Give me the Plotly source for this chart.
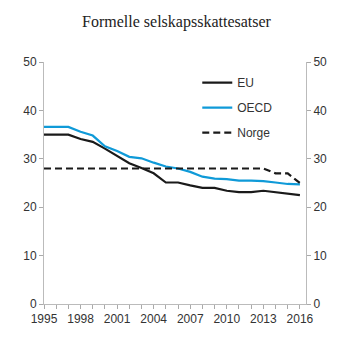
import plotly.graph_objects as go

years = list(range(1995, 2017))
eu = [35.0, 35.0, 35.0, 34.1, 33.5, 32.1, 30.6, 29.1, 28.1, 27.0, 25.1,
      25.1, 24.5, 24.0, 24.0, 23.4, 23.1, 23.1, 23.4, 23.1, 22.8, 22.5]
oecd = [36.6, 36.6, 36.6, 35.6, 34.8, 32.6, 31.6, 30.4, 30.1, 29.2, 28.4,
        28.0, 27.3, 26.3, 25.9, 25.8, 25.5, 25.5, 25.4, 25.1, 24.8, 24.7]
norge = [28.0] * 19 + [27.0, 27.0, 25.0]

title = "Formelle selskapsskattesatser"
yticks = [0, 10, 20, 30, 40, 50]

fig = go.Figure()
fig.add_trace(go.Scatter(x=years, y=eu, name="EU", mode="lines",
                         line=dict(color="#1a1a1a", width=2.2), legendgroup="a"))
fig.add_trace(go.Scatter(x=years, y=oecd, name="OECD", mode="lines",
                         line=dict(color="#0f9ad8", width=2.2), legendgroup="b"))
fig.add_trace(go.Scatter(x=years, y=norge, name="Norge", mode="lines",
                         line=dict(color="#1a1a1a", width=2.2, dash="7px,4px"), legendgroup="c"))
fig.add_trace(go.Scatter(x=years, y=eu, yaxis="y2", mode="lines", showlegend=False,
                         line=dict(width=0), hoverinfo="skip", opacity=0))

axfont = dict(family="Liberation Sans, Arial, sans-serif", size=12, color="#333333")
fig.update_layout(
    width=353, height=353,
    margin=dict(l=44, r=47, t=62, b=49),
    paper_bgcolor="white", plot_bgcolor="white",
    title=dict(text=title, x=0.5, xanchor="center", y=0.94, yanchor="middle",
               font=dict(family="Liberation Serif, Times New Roman, serif", size=16, color="#222222")),
    xaxis=dict(range=[1995, 2016.5], tick0=1995, dtick=3, ticks="outside", ticklen=4,
               tickcolor="#aaaaaa", showline=True, linecolor="#bbbbbb", linewidth=1,
               showgrid=False, zeroline=False, tickfont=axfont,
               minor=dict(dtick=1, ticks="outside", ticklen=4, tickcolor="#aaaaaa", showgrid=False)),
    yaxis=dict(range=[0, 50], tickvals=yticks, ticks="outside", ticklen=4,
               tickcolor="#aaaaaa", showline=True, linecolor="#bbbbbb", linewidth=1,
               showgrid=False, zeroline=False, tickfont=axfont),
    yaxis2=dict(range=[0, 50], tickvals=yticks, ticks="outside", ticklen=4,
                tickcolor="#aaaaaa", showline=True, linecolor="#bbbbbb", linewidth=1,
                showgrid=False, zeroline=False, tickfont=axfont, overlaying="y",
                side="right"),
    legend=dict(x=0.585, y=0.975, xanchor="left", yanchor="top", bgcolor="rgba(0,0,0,0)",
                font=axfont, tracegroupgap=6, itemwidth=30),
    showlegend=True,
)

fig.write_html("out.html")
